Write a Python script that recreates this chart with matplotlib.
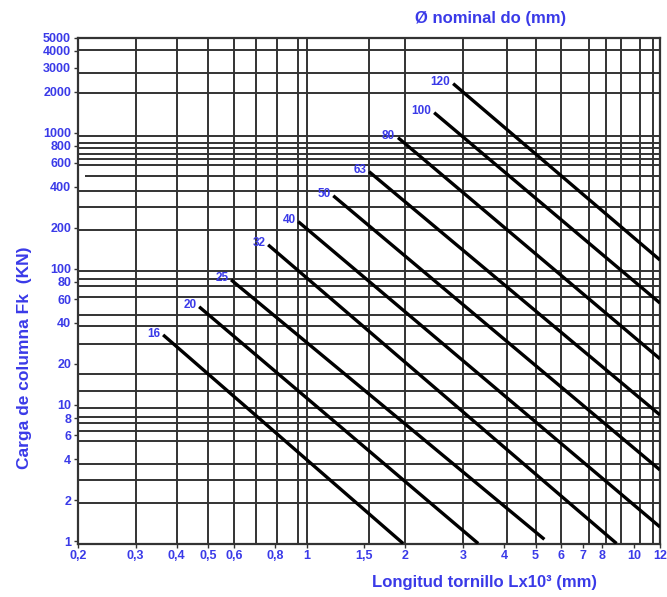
import matplotlib
matplotlib.use("Agg")
import matplotlib.pyplot as plt

# ---- data ----
diameters = [16, 20, 25, 32, 40, 50, 63, 80, 100, 120]
x_start = [0.364, 0.469, 0.587, 0.762, 0.942, 1.205, 1.55, 1.90, 2.45, 2.80]
y_start = [32.7, 52.6, 83, 150, 222, 344, 517, 919, 1403, 2292]
x_end = [1.97, 3.34, 5.32, 8.84, 12, 12, 12, 12, 12, 12]
y_end = [0.96, 0.96, 1.03, 0.96, 1.27, 3.33, 8.44, 21.8, 56, 116]

x_grid = [0.3, 0.4, 0.5, 0.6, 0.7, 0.81, 0.94, 1.0, 1.55, 2.0, 3.0, 4.1, 5.0,
          6.0, 7.3, 8.2, 9.1, 10.4, 11.4]
y_grid = [4070, 2760, 1970, 951, 844, 776, 701, 645, 582, 375, 284, 193, 97,
          84, 75, 62, 46, 38, 28, 17, 12.6, 9.5, 8.2, 7.4, 6.4, 5.4, 3.7, 2.8, 1.9]
y_partial = 483

x_ticks = [0.2, 0.3, 0.4, 0.5, 0.6, 0.8, 1, 1.5, 2, 3, 4, 5, 6, 7, 8, 10, 12]
x_ticklabels = ["0,2", "0,3", "0,4", "0,5", "0,6", "0,8", "1", "1,5", "2", "3",
                "4", "5", "6", "7", "8", "10", "12"]
y_ticks = [1, 2, 4, 6, 8, 10, 20, 40, 60, 80, 100, 200, 400, 600, 800, 1000,
           2000, 3000, 4000, 5000]
y_ticklabels = [str(v) for v in y_ticks]

x_lim = (0.2, 12)
y_lim = (0.96, 5000)

BLUE = "#3a3ae8"
GRID = "#333333"

plt.rcParams["font.family"] = ["Liberation Sans", "DejaVu Sans"]

fig = plt.figure(figsize=(6.67, 5.97), dpi=100)
ax = fig.add_axes([78 / 667, 1 - 543.5 / 597, 582 / 667, (543.5 - 37.5) / 597])
ax.set_xscale("log")
ax.set_yscale("log")
ax.set_xlim(*x_lim)
ax.set_ylim(*y_lim)

ax.vlines(x_grid, y_lim[0], y_lim[1], colors=GRID, linewidth=1.4, zorder=1)
ax.hlines(y_grid, x_lim[0], x_lim[1], colors=GRID, linewidth=1.4, zorder=1)
ax.hlines([y_partial], 0.21, x_lim[1], colors=GRID, linewidth=1.4, zorder=1)

for d, xs, ys, xe, ye in zip(diameters, x_start, y_start, x_end, y_end):
    ax.plot([xs, xe], [ys, ye], color="black", linewidth=2.4,
            solid_capstyle="butt", zorder=3, clip_on=True)
    ax.annotate(str(d), xy=(xs, ys), xytext=(-2, 1), textcoords="offset points",
                ha="right", va="center", fontsize=8.5, fontweight="bold",
                color=BLUE, zorder=4)

for s in ax.spines.values():
    s.set_color(GRID)
    s.set_linewidth(1.6)

ax.set_xticks(x_ticks)
ax.set_xticklabels(x_ticklabels)
ax.set_yticks(y_ticks)
ax.set_yticklabels(y_ticklabels)
ax.minorticks_off()
ax.tick_params(axis="both", colors=GRID, labelcolor=BLUE, labelsize=9,
               length=3, width=1, pad=2)
for lab in ax.get_xticklabels() + ax.get_yticklabels():
    lab.set_fontweight("bold")

fig.text(25 / 667, 1 - 358 / 597, "Carga de columna Fk  (KN)", rotation=90,
         ha="center", va="center", fontsize=12.5, fontweight="bold", color=BLUE)
fig.text(485 / 667, 1 - 582 / 597, "Longitud tornillo Lx10³ (mm)",
         ha="center", va="center", fontsize=12, fontweight="bold", color=BLUE)
fig.text(491 / 667, 1 - 18 / 597, "Ø nominal do (mm)",
         ha="center", va="center", fontsize=12, fontweight="bold", color=BLUE)

fig.savefig("out.png", dpi=100)
